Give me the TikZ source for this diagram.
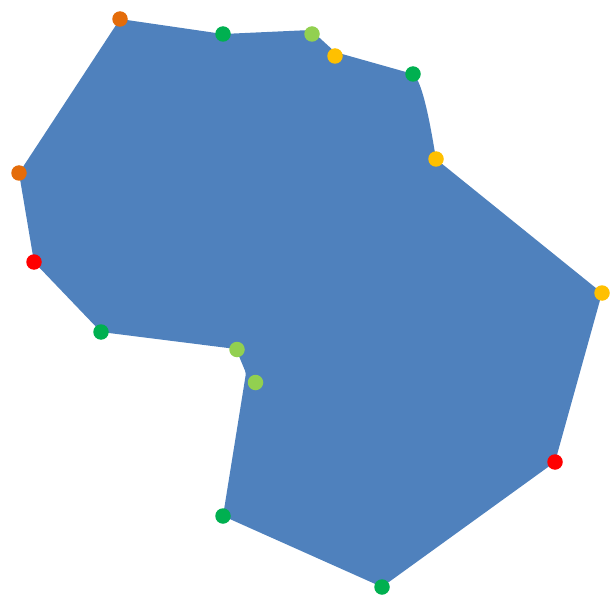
\documentclass[tikz,border=0pt]{standalone}
\usepackage{xcolor}
\usetikzlibrary{positioning}
\definecolor{shapeblue}{HTML}{4F81BD}
\definecolor{ptorange}{HTML}{E46C0A}
\definecolor{ptgreen}{HTML}{00B050}
\definecolor{ptlime}{HTML}{92D050}
\definecolor{ptyellow}{HTML}{FFC000}
\definecolor{ptred}{HTML}{FF0000}

\begin{document}
\begin{tikzpicture}[x=1pt,y=-1pt,
  dot/.style={circle,fill=#1,inner sep=0pt,minimum size=15.5pt},
  area/.style={fill=shapeblue,rounded corners=2.5pt}]
  \useasboundingbox (0,0) rectangle (616,599);
  % corner points (pixel grid, y down)
  \coordinate (a) at (120,19);
  \coordinate (b) at (223,34);
  \coordinate (c) at (311,30);
  \coordinate (d) at (335,52);
  \coordinate (e) at (413,74);
  \coordinate (f) at (436,159);
  \coordinate (g) at (602,293);
  \coordinate (h) at (555,462);
  \coordinate (i) at (382,587);
  \coordinate (j) at (223,516);
  \coordinate (k) at (246,373);
  \coordinate (l) at (236,349);
  \coordinate (m) at (101,332);
  \coordinate (n) at (34,262);
  \coordinate (o) at (19,173);
  \coordinate (kdot) at (255.5,382.5);
  \coordinate (ldot) at (237,349.5);
  \coordinate (cdot) at (312,34);
  \coordinate (ddot) at (335,56);
  % shape
  \path[area] (a) -- (b) -- (c) -- (d) -- (e)
    .. controls (424,86) and (432,135) .. (f)
    -- (g) -- (h) -- (i) -- (j) -- (k) -- (l) -- (m) -- (n) -- (o) -- cycle;
  % markers
  \foreach \p/\c in {a/ptorange,b/ptgreen,cdot/ptlime,ddot/ptyellow,e/ptgreen,
      f/ptyellow,g/ptyellow,h/ptred,i/ptgreen,j/ptgreen,kdot/ptlime,
      ldot/ptlime,m/ptgreen,n/ptred,o/ptorange}
    \node[dot=\c] (pt-\p) at (\p) {};
\end{tikzpicture}
\end{document}
